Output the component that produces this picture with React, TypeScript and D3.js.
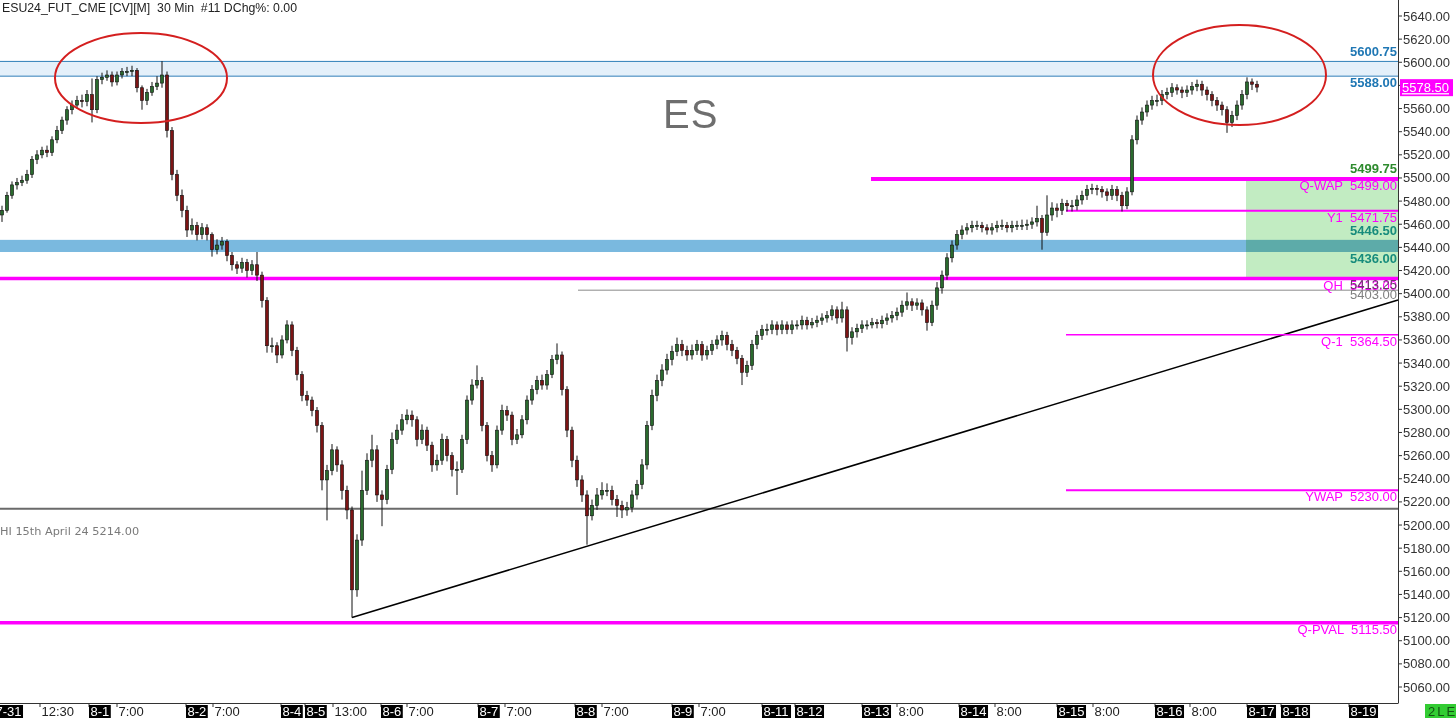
import React from 'react';
import * as d3 from 'd3';

// ---------- data ----------
const firstOpen = 5468;
const closes = [
  5472,5485,5494,5496,5498,5503,5516,5520,5524,5522,
  5533,5541,5550,5559,5563,5567,5566,5572,5559,5585,
  5587,5589,5583,5589,5592,5592,5593,5578,5567,5574,
  5579,5582,5589,5541,5503,5485,5472,5455,5459,5451,
  5457,5451,5438,5442,5445,5433,5425,5422,5427,5420,
  5425,5416,5394,5355,5355,5347,5360,5373,5351,5330,
  5312,5308,5299,5286,5239,5247,5265,5252,5230,5213,
  5144,5187,5230,5256,5265,5226,5222,5248,5274,5282,
  5291,5295,5291,5274,5282,5269,5252,5256,5274,5260,
  5248,5248,5274,5308,5321,5325,5286,5260,5252,5282,
  5299,5295,5274,5278,5291,5308,5317,5325,5321,5330,
  5343,5347,5317,5282,5256,5239,5226,5208,5217,5226,
  5230,5230,5222,5217,5213,5215,5226,5235,5252,5286,
  5312,5325,5334,5343,5350,5356,5351,5347,5351,5356,
  5347,5351,5356,5360,5364,5356,5351,5344,5332,5338,
  5356,5364,5369,5369,5373,5369,5373,5369,5373,5373,
  5377,5373,5375,5377,5379,5381,5386,5379,5386,5362,
  5367,5370,5373,5373,5375,5374,5377,5379,5381,5384,
  5390,5393,5390,5392,5386,5375,5390,5405,5416,5431,
  5442,5451,5455,5457,5459,5459,5457,5455,5457,5459,
  5459,5457,5459,5459,5459,5460,5462,5465,5453,5468,
  5474,5472,5478,5476,5476,5481,5485,5490,5491,5490,
  5488,5485,5490,5485,5476,5488,5533,5550,5557,5563,
  5567,5567,5572,5574,5578,5576,5574,5576,5579,5581,
  5576,5572,5567,5563,5559,5548,5554,5563,5572,5583,
  5581,5578.5,
];
const highs = [
  5476,5488,5497,5500,5502,5507,5519,5524,5527,5528,
  5536,5545,5553,5562,5567,5571,5572,5576,5586,5588,
  5591,5593,5592,5592,5595,5596,5597,5595,5580,5577,
  5583,5588,5601,5592,5544,5507,5490,5476,5465,5462,
  5461,5460,5453,5447,5449,5447,5436,5428,5431,5430,
  5429,5436,5419,5397,5362,5358,5364,5377,5376,5354,
  5333,5316,5311,5302,5289,5252,5270,5268,5256,5234,
  5216,5192,5247,5262,5278,5269,5230,5252,5280,5287,
  5296,5300,5299,5294,5287,5285,5272,5261,5279,5277,
  5263,5255,5278,5312,5326,5338,5328,5289,5264,5286,
  5304,5303,5298,5283,5295,5312,5321,5329,5330,5334,
  5347,5357,5350,5320,5285,5260,5243,5230,5222,5232,
  5237,5236,5234,5226,5221,5220,5230,5239,5257,5290,
  5317,5330,5339,5348,5355,5362,5360,5355,5356,5360,
  5359,5355,5360,5364,5368,5367,5360,5354,5347,5342,
  5360,5368,5373,5374,5377,5376,5377,5376,5377,5377,
  5381,5380,5379,5381,5383,5385,5390,5389,5393,5389,
  5371,5374,5377,5377,5379,5378,5381,5383,5385,5388,
  5394,5401,5396,5396,5395,5389,5394,5410,5420,5435,
  5446,5455,5459,5461,5463,5463,5462,5460,5461,5463,
  5464,5462,5463,5463,5464,5464,5466,5476,5468,5485,
  5479,5478,5482,5481,5481,5485,5489,5494,5495,5494,
  5493,5491,5494,5493,5488,5492,5537,5554,5561,5567,
  5571,5572,5576,5578,5582,5581,5579,5580,5583,5585,
  5584,5579,5575,5570,5566,5562,5558,5567,5576,5587,
  5586,5584,
];
const lows = [
  5462,5470,5482,5490,5493,5495,5500,5512,5517,5518,
  5519,5530,5538,5546,5555,5560,5561,5562,5548,5556,
  5581,5584,5579,5580,5586,5588,5588,5574,5559,5563,
  5571,5576,5578,5535,5498,5480,5466,5449,5451,5446,
  5447,5446,5432,5434,5438,5428,5420,5417,5418,5414,
  5416,5411,5388,5349,5349,5340,5344,5357,5346,5325,
  5307,5303,5294,5280,5230,5204,5243,5246,5222,5205,
  5120,5138,5182,5226,5250,5220,5199,5218,5244,5270,
  5278,5287,5285,5268,5270,5264,5246,5247,5252,5255,
  5242,5226,5245,5270,5304,5318,5281,5255,5246,5249,
  5278,5290,5269,5270,5275,5287,5304,5313,5317,5317,
  5327,5339,5312,5276,5250,5233,5220,5183,5204,5213,
  5222,5225,5217,5207,5206,5208,5211,5222,5231,5248,
  5282,5307,5320,5330,5338,5346,5346,5342,5343,5347,
  5342,5343,5347,5352,5355,5351,5346,5339,5321,5328,
  5334,5352,5360,5364,5365,5364,5365,5365,5365,5369,
  5369,5369,5370,5371,5373,5375,5377,5374,5375,5350,
  5356,5362,5366,5369,5370,5370,5370,5373,5375,5377,
  5380,5386,5385,5386,5381,5368,5372,5386,5400,5412,
  5427,5438,5447,5451,5453,5455,5453,5451,5451,5453,
  5455,5453,5453,5455,5455,5455,5456,5458,5438,5450,
  5463,5466,5468,5471,5471,5472,5477,5481,5486,5485,
  5483,5480,5481,5480,5471,5473,5485,5529,5546,5553,
  5559,5562,5563,5568,5570,5572,5569,5570,5572,5575,
  5571,5567,5562,5558,5554,5539,5544,5550,5559,5568,
  5576,5574,
];

const yTicks = d3.range(5060, 5641, 20);

// x-axis labels: [text, bar index position, isDate]
const xLabels: [string, number, boolean][] = [
  ['7-31', -1.6, true], ['12:30', 7.6, false], ['8-1', 17.4, true], ['7:00', 23, false],
  ['8-2', 36.8, true], ['7:00', 42.2, false], ['8-4', 55.8, true], ['8-5', 60.6, true],
  ['13:00', 66.2, false], ['8-6', 75.8, true], ['7:00', 81, false], ['8-7', 95.2, true],
  ['7:00', 100.6, false], ['8-8', 114.6, true], ['7:00', 120, false], ['8-9', 134, true],
  ['7:00', 139.4, false], ['8-11', 152, true], ['8-12', 158.6, true], ['8-13', 172, true],
  ['8:00', 179, false], ['8-14', 191.4, true], ['8:00', 198.6, false], ['8-15', 211, true],
  ['8:00', 218.2, false], ['8-16', 230.6, true], ['8:00', 237.6, false], ['8-17', 249, true],
  ['8-18', 255.8, true], ['8-19', 269.4, true],
];

// level lines: name, price, start bar (null = full width), label
const levelNames = ['Q-WAP', 'Y1', 'QH', 'Q-1', 'YWAP', 'Q-PVAL'];
const levelValues = [5499, 5471.75, 5413, 5364.5, 5230, 5115.5];
const levelStarts = [173.8, 212.8, null, 212.8, 212.8, null];
const levelWidths = [4, 2, 3.5, 1.5, 2, 3.5];

const grayLevels = [5403, 5214];
const grayStarts = [115.2, null];

const upperZone = [5588, 5600.75];
const blueBand = [5436, 5446.5];
const greenZone = [5413, 5499.75];
const greenStart = 248.8;

const trendPts = [{ i: 70, p: 5120 }, { i: 279.2, p: 5394.5 }];
const ellipses = [
  { i0: 10.6, i1: 45, p0: 5547.5, p1: 5625.3 },
  { i0: 230.2, i1: 264.8, p0: 5545.8, p1: 5632.2 },
];
const lastPrice = 5578.5;

// ---------- layout ----------
const W = 1456, H = 718;
const plotRight = 1398, plotBottom = 703;
const FONT = 'Liberation Sans, Arial, sans-serif';

const x = d3.scaleLinear().domain([0, 251]).range([2, 1257]);
const y = d3.scaleLinear().domain([5060, 5640]).range([687, 16]);

const MAGENTA = '#ff00ff';
const fmt = d3.format('.2f');

function textW(s: string) {
  let w = 0;
  for (const ch of s) {
    if (/[0-9]/.test(ch)) w += 7.23;
    else if (ch === '-') w += 4.33;
    else if (ch === ':') w += 3.61;
    else w += 7;
  }
  return w;
}

export default function App() {
  const bars = closes.map((c, i) => {
    const o = i === 0 ? firstOpen : closes[i - 1];
    return { i, o, c, h: highs[i], l: lows[i] };
  });

  const tSlope = (trendPts[1].p - trendPts[0].p) / (trendPts[1].i - trendPts[0].i);
  const tEndI = x.invert(plotRight);
  const tEndP = trendPts[0].p + tSlope * (tEndI - trendPts[0].i);

  const rightLabel = (txt: string, yy: number, color: string, bold = false, key?: string) => (
    <text key={key} x={plotRight - 1} y={yy} textAnchor="end" fill={color} fontSize={13}
      fontWeight={bold ? 'bold' : 'normal'} style={{ whiteSpace: 'pre' }}>{txt}</text>
  );

  return (
    <svg width={W} height={H} style={{ position: 'absolute', left: 0, top: 0, background: '#fff' }}
      fontFamily={FONT}>
      <rect x={0} y={0} width={W} height={H} fill="#fff" />
      {/* upper zone */}
      <rect x={0} y={y(upperZone[1])} width={plotRight} height={y(upperZone[0]) - y(upperZone[1])} fill="#e4f0fa" />
      <line x1={0} x2={plotRight} y1={y(upperZone[1])} y2={y(upperZone[1])} stroke="#2f7fb8" strokeWidth={1} />
      <line x1={0} x2={plotRight} y1={y(upperZone[0])} y2={y(upperZone[0])} stroke="#2f7fb8" strokeWidth={1} />
      {/* green zone */}
      <rect x={x(greenStart)} y={y(greenZone[1])} width={plotRight - x(greenStart)}
        height={y(greenZone[0]) - y(greenZone[1])} fill="#c2ecc2" />
      {/* blue band */}
      <rect x={0} y={y(blueBand[1])} width={plotRight} height={y(blueBand[0]) - y(blueBand[1])}
        fill="#7ab9df" style={{ mixBlendMode: 'multiply' }} />

      {/* gray levels */}
      {grayLevels.map((v, k) => (
        <line key={'g' + k} x1={grayStarts[k] == null ? 0 : x(grayStarts[k] as number)} x2={plotRight}
          y1={y(v)} y2={y(v)} stroke={k === 0 ? '#8a8a8a' : '#6a6a6a'} strokeWidth={k === 0 ? 1 : 2} />
      ))}

      {/* trend line */}
      <line x1={x(trendPts[0].i)} y1={y(trendPts[0].p)} x2={x(tEndI)} y2={y(tEndP)} stroke="#000" strokeWidth={1.5} />

      {/* magenta levels */}
      {levelValues.map((v, k) => (
        <line key={'m' + k} x1={levelStarts[k] == null ? 0 : x(levelStarts[k] as number)} x2={plotRight}
          y1={y(v)} y2={y(v)} stroke={MAGENTA} strokeWidth={levelWidths[k]} />
      ))}

      {/* candles */}
      {bars.map(b => {
        const cx = x(b.i);
        const up = b.c >= b.o;
        const top = y(Math.max(b.o, b.c));
        const bot = y(Math.min(b.o, b.c));
        return (
          <g key={b.i}>
            <line x1={cx} x2={cx} y1={y(b.h)} y2={y(b.l)} stroke="#111" strokeWidth={1} />
            <rect x={cx - 1.6} y={top} width={3.2} height={Math.max(1, bot - top)}
              fill={up ? '#2a6a2e' : '#7c1414'} stroke="#111" strokeWidth={0.6} />
          </g>
        );
      })}

      {/* ellipses */}
      {ellipses.map((e, k) => (
        <ellipse key={'e' + k} cx={(x(e.i0) + x(e.i1)) / 2} cy={(y(e.p0) + y(e.p1)) / 2}
          rx={(x(e.i1) - x(e.i0)) / 2} ry={(y(e.p0) - y(e.p1)) / 2}
          fill="none" stroke="#d41f1f" strokeWidth={2} />
      ))}

      {/* big ES */}
      <text x={663} y={128} fontSize={40} fill="#6e6e6e" letterSpacing={1}>ES</text>

      {/* title */}
      <text x={2} y={12} fontSize={12.3} fill="#222" style={{ whiteSpace: 'pre' }}>ESU24_FUT_CME [CV][M]  30 Min  #11 DChg%: 0.00</text>

      {/* level labels */}
      {rightLabel(fmt(upperZone[1]), y(upperZone[1]) - 5, '#1f77b4', true, 'l1')}
      {rightLabel(fmt(upperZone[0]), y(upperZone[0]) + 11, '#1f77b4', true, 'l2')}
      {rightLabel(fmt(greenZone[1]), y(greenZone[1]) - 5, '#2e8b2e', true, 'l3')}
      {rightLabel(fmt(blueBand[1]), y(blueBand[1]) - 5, '#178c7c', true, 'l4')}
      {rightLabel(fmt(blueBand[0]), y(blueBand[0]) + 11, '#178c7c', true, 'l5')}
      {levelValues.map((v, k) => rightLabel(`${levelNames[k]}  ${fmt(v)}`, y(v) + 11, MAGENTA, false, 'lv' + k))}
      {rightLabel(fmt(5413.25), y(levelValues[2]) + 10, '#6a3a6a', false, 'lqh')}
      {rightLabel(fmt(grayLevels[0]), y(grayLevels[0]) + 9, '#808080', false, 'lg')}
      <text x={0} y={y(grayLevels[1]) + 26} fontSize={11.3} fill="#7a7a7a"
        fontFamily="DejaVu Sans, Verdana, sans-serif">HI 15th April 24 {fmt(grayLevels[1])}</text>

      {/* axes */}
      <line x1={plotRight + 0.5} x2={plotRight + 0.5} y1={0} y2={plotBottom} stroke="#333" strokeWidth={1} />
      <line x1={0} x2={plotRight + 0.5} y1={plotBottom + 0.5} y2={plotBottom + 0.5} stroke="#333" strokeWidth={1} />
      {yTicks.map(t => (
        <g key={'yt' + t}>
          <line x1={plotRight} x2={plotRight + 4} y1={y(t)} y2={y(t)} stroke="#333" />
          <text x={plotRight + 5} y={y(t) + 4.5} fontSize={13} fill="#333">{fmt(t)}</text>
        </g>
      ))}
      {xLabels.map(([s, i, isDate], k) => {
        const px = x(i);
        const w = textW(s) + 3;
        return (
          <g key={'xl' + k}>
            <line x1={px} x2={px} y1={plotBottom} y2={plotBottom + 4} stroke="#333" />
            {isDate && <rect x={px} y={plotBottom + 2} width={w} height={14} fill="#000" />}
            <text x={px + 1.5} y={plotBottom + 13} fontSize={13} fill={isDate ? '#fff' : '#222'}>{s}</text>
          </g>
        );
      })}

      {/* last price tag */}
      <rect x={plotRight + 2} y={y(lastPrice) - 8} width={53} height={17} fill={MAGENTA} />
      <text x={plotRight + 4} y={y(lastPrice) + 5} fontSize={13} fill="#fff" textDecoration="underline">{fmt(lastPrice)}</text>

      {/* 2 LE */}
      <rect x={1425} y={plotBottom + 1} width={31} height={15} fill="#33cc33" />
      <text x={1428} y={plotBottom + 13} fontSize={13} fill="#145214" letterSpacing={2}>2LE</text>
    </svg>
  );
}
